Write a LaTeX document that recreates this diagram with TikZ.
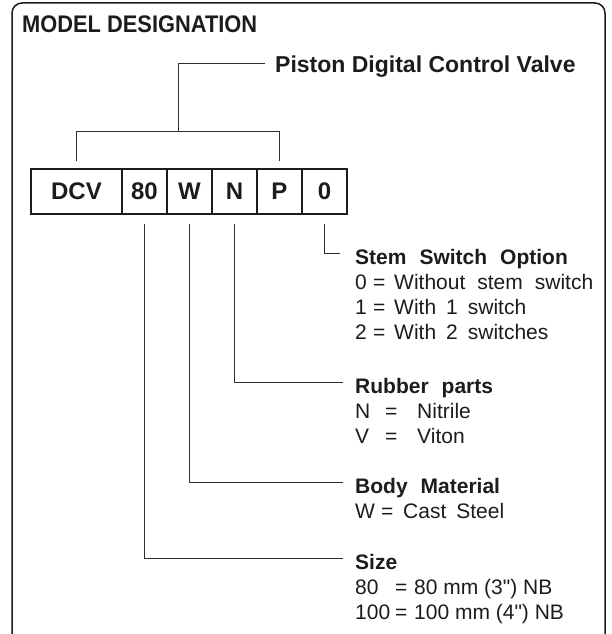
\documentclass[tikz,border=0pt]{standalone}
\usepackage{fontspec}
\setmainfont{Liberation Sans}[Ligatures=TeXOff]
\usetikzlibrary{calc}
\definecolor{ink}{HTML}{1C1C1C}
\definecolor{wire}{HTML}{2E2E2E}
\newcommand{\hgap}{\hspace{13pt}}
\newcommand{\eqrow}[4]{\makebox[#1][l]{#3}\makebox[#2][l]{=}#4}
\begin{document}
\begin{tikzpicture}[x=1pt,y=-1pt,
  wire/.style={draw=wire, line width=1pt},
  frame/.style={draw=ink, line width=1.5pt, rounded corners=10pt},
  cell/.style={draw=ink, line width=1.1pt, minimum height=45pt, minimum width=45pt, inner sep=0pt,
    font=\fontsize{24}{24}\selectfont\bfseries, text=ink},
  ttl/.style={anchor=base west, inner sep=0pt, font=\fontsize{24}{24}\selectfont\bfseries, text=ink},
  hdr/.style={anchor=base west, inner sep=0pt, font=\fontsize{21}{21}\selectfont\bfseries, text=ink},
  row/.style={anchor=base west, inner sep=0pt, font=\fontsize{21}{21}\selectfont, text=ink}]
\useasboundingbox (0,0) rectangle (611,634);
% frame
\draw[frame] (12,650) -- (12,3) -- (605,3) -- (605,650);
% titles
\node[ttl] (title) at (22,33) {\scalebox{0.91}[1]{MODEL DESIGNATION}};
\node[ttl, font=\fontsize{23}{23}\selectfont\bfseries] (piston) at (275,72) {Piston Digital Control Valve};
% cells
\node[cell, minimum width=91pt] (dcv) at (76.5,191.5) {DCV};
\node[cell] (c80) at (144.5,191.5) {80};
\node[cell] (cW) at (189.5,191.5) {W};
\node[cell] (cN) at (234.5,191.5) {N};
\node[cell] (cP) at (279.5,191.5) {P};
\node[cell] (c0) at (324.5,191.5) {0};
% bracket to title
\coordinate (brk) at (178,132);
\coordinate (ePiston) at (265,64);
\draw[wire] ($(dcv.north)+(0,-7)$) -- ++(0,-30) -| ($(cP.north)+(0,-7)$);
\draw[wire] (brk) |- (ePiston);
% option texts
\node[hdr] (hStem) at (355,264) {Stem\hgap Switch\hgap Option};
\node[row] (s0) at (355,289) {\eqrow{18pt}{21pt}{0}{Without\hspace{12pt}stem\hspace{12pt}switch}};
\node[row] (s1) at (355,314) {\eqrow{18pt}{21pt}{1}{With\hspace{10pt}1\hspace{10pt}switch}};
\node[row] (s2) at (355,339) {\eqrow{18pt}{21pt}{2}{With\hspace{10pt}2\hspace{10pt}switches}};
\node[hdr] (hRub) at (355,393) {Rubber\hgap parts};
\node[row] (rN) at (355,418) {\eqrow{30pt}{32pt}{N}{Nitrile}};
\node[row] (rV) at (355,443) {\eqrow{30pt}{32pt}{V}{Viton}};
\node[hdr] (hBody) at (355,493) {Body\hgap Material};
\node[row] (bW) at (355,518) {\eqrow{26pt}{22pt}{W}{Cast\hspace{10pt}Steel}};
\node[hdr] (hSize) at (355,569) {Size};
\node[row] (z80) at (355,594) {\eqrow{40pt}{19pt}{80}{80 mm (3") NB}};
\node[row] (z100) at (355,619) {\eqrow{40pt}{19pt}{100}{100 mm (4") NB}};
% leader lines
\coordinate (eStem) at (340,253);
\coordinate (eRub) at (343,382);
\coordinate (eBody) at (343,482);
\coordinate (eSize) at (343,558);
\draw[wire] ($(c0.south)+(0,9)$) |- (eStem);
\draw[wire] ($(cN.south)+(0,9)$) |- (eRub);
\draw[wire] ($(cW.south)+(0,9)$) |- (eBody);
\draw[wire] ($(c80.south)+(0,9)$) |- (eSize);
\end{tikzpicture}
\end{document}
